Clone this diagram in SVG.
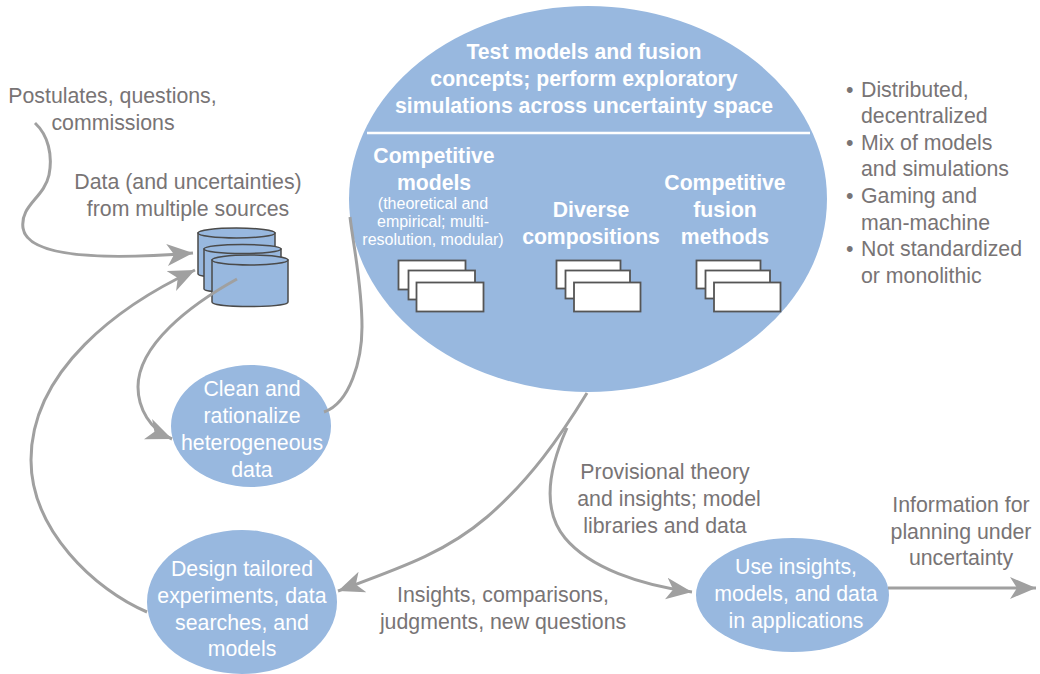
<svg xmlns="http://www.w3.org/2000/svg" width="1040" height="674" viewBox="0 0 1040 674">
<style>
text{font-family:"Liberation Sans",Arial,sans-serif;font-size:21.300px;text-anchor:middle}
.g{fill:#787475}
.w{fill:#fff}
.b{fill:#fff;font-weight:bold;font-size:21.200px}
.s{fill:#fff;font-size:16px}
.l{text-anchor:start}
.e{fill:#98b8df}
.c{fill:none;stroke:#a0a0a0;stroke-width:3}
.cyl{fill:#98b8df;stroke:#4a4a4a;stroke-width:1.5}
.r{fill:#fff;stroke:#555;stroke-width:1.8}
</style>
<defs>
<marker id="a" markerUnits="userSpaceOnUse" markerWidth="28" markerHeight="24" refX="26" refY="12" orient="auto"><path d="M0,1 L26,12 L0,23 L7,12Z" fill="#a0a0a0"/></marker>
</defs>
<rect width="1040" height="674" fill="#fff"/>
<g id="n-main">
<ellipse class="e" cx="588" cy="199" rx="239" ry="193"/>
<line x1="367" y1="133" x2="810" y2="133" stroke="#fff" stroke-width="2.500"/>
<text class="b" x="584" y="59">Test models and fusion</text>
<text class="b" x="584" y="86">concepts; perform exploratory</text>
<text class="b" x="584" y="113">simulations across uncertainty space</text>
<text class="b" x="434" y="163">Competitive</text>
<text class="b" x="434" y="190">models</text>
<text class="s" x="433" y="209">(theoretical and</text>
<text class="s" x="433" y="227">empirical; multi-</text>
<text class="s" x="433" y="245">resolution, modular)</text>
<text class="b" x="591" y="217">Diverse</text>
<text class="b" x="591" y="244">compositions</text>
<text class="b" x="725" y="190">Competitive</text>
<text class="b" x="725" y="217">fusion</text>
<text class="b" x="725" y="244">methods</text>
<rect class="r" x="398.500" y="260.500" width="67" height="29"/><rect class="r" x="408.500" y="270.500" width="66.500" height="29"/><rect class="r" x="416.500" y="282.500" width="67" height="29"/>
<rect class="r" x="556.500" y="260.500" width="64" height="28"/><rect class="r" x="565.500" y="270.500" width="64.500" height="28"/><rect class="r" x="574" y="282.500" width="66.500" height="29"/>
<rect class="r" x="696.500" y="260.500" width="64" height="28"/><rect class="r" x="705.500" y="270.500" width="64.500" height="28"/><rect class="r" x="714" y="282.500" width="66.500" height="29"/>
</g>
<g id="n-clean">
<ellipse class="e" cx="251" cy="426" rx="80" ry="61"/>
<text class="w" x="252" y="396">Clean and</text>
<text class="w" x="252" y="423">rationalize</text>
<text class="w" x="252" y="450">heterogeneous</text>
<text class="w" x="252" y="477">data</text>
</g>
<g id="n-design">
<ellipse class="e" cx="242" cy="602" rx="95" ry="72"/>
<text class="w" x="242" y="576">Design tailored</text>
<text class="w" x="242" y="603">experiments, data</text>
<text class="w" x="242" y="630">searches, and</text>
<text class="w" x="242" y="656">models</text>
</g>
<g id="n-use">
<ellipse class="e" cx="792.500" cy="595" rx="96.500" ry="57"/>
<text class="w" x="796" y="574">Use insights,</text>
<text class="w" x="796" y="601">models, and data</text>
<text class="w" x="796" y="628">in applications</text>
</g>
<g id="n-data">
<path class="cyl" d="M198,233V274C198,279 275,279 275,274V233Z"/><ellipse class="cyl" cx="236.500" cy="233" rx="38.500" ry="5"/>
<path class="cyl" d="M204,249V289C204,294 281,294 281,289V249Z"/><ellipse class="cyl" cx="242.500" cy="249" rx="38.500" ry="4.500"/>
<path class="cyl" d="M212,260V302C212,308 288,308 288,302V260Z"/><ellipse class="cyl" cx="250" cy="260" rx="38" ry="5"/>
</g>
<g id="connectors">
<path class="c" marker-end="url(#a)" d="M35,123C48,135 53,155 49,175C44,198 20,205 23,228C28,262 130,258 193,253"/>
<path class="c" marker-end="url(#a)" d="M147,612C95,590 31,530 31,460C31,370 120,305 195,270"/>
<path class="c" marker-end="url(#a)" d="M237,279C190,305 138,345 138,387C138,408 150,430 172,439"/>
<path class="c" d="M350,217C354,250 362,285 362,327C362,360 350,403 324,412"/>
<path class="c" marker-end="url(#a)" d="M587,393C560,437 530,480 487,517C445,553 400,568 338,591"/>
<path class="c" marker-end="url(#a)" d="M567,428C548,470 542,510 565,538C590,568 640,585 692,592"/>
<path class="c" marker-end="url(#a)" d="M888,588H1036"/>
</g>
<g id="labels">
<text class="g" x="112.500" y="103">Postulates, questions,</text>
<text class="g" x="113" y="130">commissions</text>
<text class="g" x="188" y="189">Data (and uncertainties)</text>
<text class="g" x="188" y="216">from multiple sources</text>
<text class="g" x="503" y="602">Insights, comparisons,</text>
<text class="g" x="503" y="629">judgments, new questions</text>
<text class="g" x="665" y="479">Provisional theory</text>
<text class="g" x="669" y="506">and insights; model</text>
<text class="g" x="665" y="533">libraries and data</text>
<text class="g" x="961" y="512">Information for</text>
<text class="g" x="961" y="539">planning under</text>
<text class="g" x="961" y="565">uncertainty</text>
<text class="g l" x="846" y="97">•</text><text class="g l" x="861" y="97">Distributed,</text>
<text class="g l" x="861" y="123">decentralized</text>
<text class="g l" x="846" y="150">•</text><text class="g l" x="861" y="150">Mix of models</text>
<text class="g l" x="861" y="176">and simulations</text>
<text class="g l" x="846" y="203">•</text><text class="g l" x="861" y="203">Gaming and</text>
<text class="g l" x="861" y="230">man-machine</text>
<text class="g l" x="846" y="256">•</text><text class="g l" x="861" y="256">Not standardized</text>
<text class="g l" x="861" y="283">or monolithic</text>
</g>
</svg>
